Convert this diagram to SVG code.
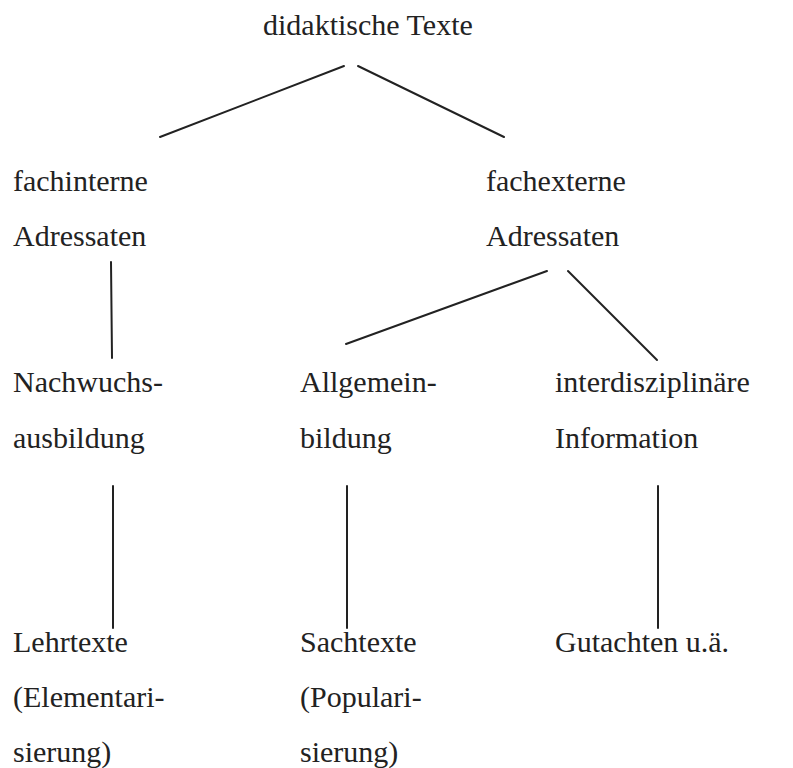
<svg xmlns="http://www.w3.org/2000/svg" width="793" height="768" viewBox="0 0 793 768">
<style>
text{font-family:'Liberation Serif',Tinos,'Times New Roman',Times,'DejaVu Serif',serif;font-size:30px;fill:#222}
.c line{stroke:#222;stroke-width:2;stroke-linecap:round}
</style>
<rect width="793" height="768" fill="#fff"/>
<g class="c" id="connectors">
<line x1="344" y1="66" x2="160" y2="137"/>
<line x1="358" y1="66" x2="504" y2="137"/>
<line x1="111" y1="262" x2="112" y2="358"/>
<line x1="547" y1="271" x2="346" y2="344"/>
<line x1="568" y1="271" x2="657" y2="360"/>
<line x1="113" y1="486" x2="113" y2="628"/>
<line x1="347" y1="486" x2="347" y2="628"/>
<line x1="658" y1="486" x2="658" y2="628"/>
</g>
<g id="n-root"><text x="263" y="35">didaktische Texte</text></g>
<g id="n-fachintern"><text x="13" y="191">fachinterne</text><text x="13" y="246">Adressaten</text></g>
<g id="n-fachextern"><text x="486" y="191">fachexterne</text><text x="486" y="246">Adressaten</text></g>
<g id="n-nachwuchs"><text x="13" y="392">Nachwuchs-</text><text x="13" y="448">ausbildung</text></g>
<g id="n-allgemein"><text x="300" y="392">Allgemein-</text><text x="300" y="448">bildung</text></g>
<g id="n-interdisz"><text x="555" y="392">interdisziplinäre</text><text x="555" y="448">Information</text></g>
<g id="n-lehrtexte"><text x="13" y="652">Lehrtexte</text><text x="13" y="707">(Elementari-</text><text x="13" y="762">sierung)</text></g>
<g id="n-sachtexte"><text x="300" y="652">Sachtexte</text><text x="300" y="707">(Populari-</text><text x="300" y="762">sierung)</text></g>
<g id="n-gutachten"><text x="555" y="652">Gutachten u.ä.</text></g>
</svg>
